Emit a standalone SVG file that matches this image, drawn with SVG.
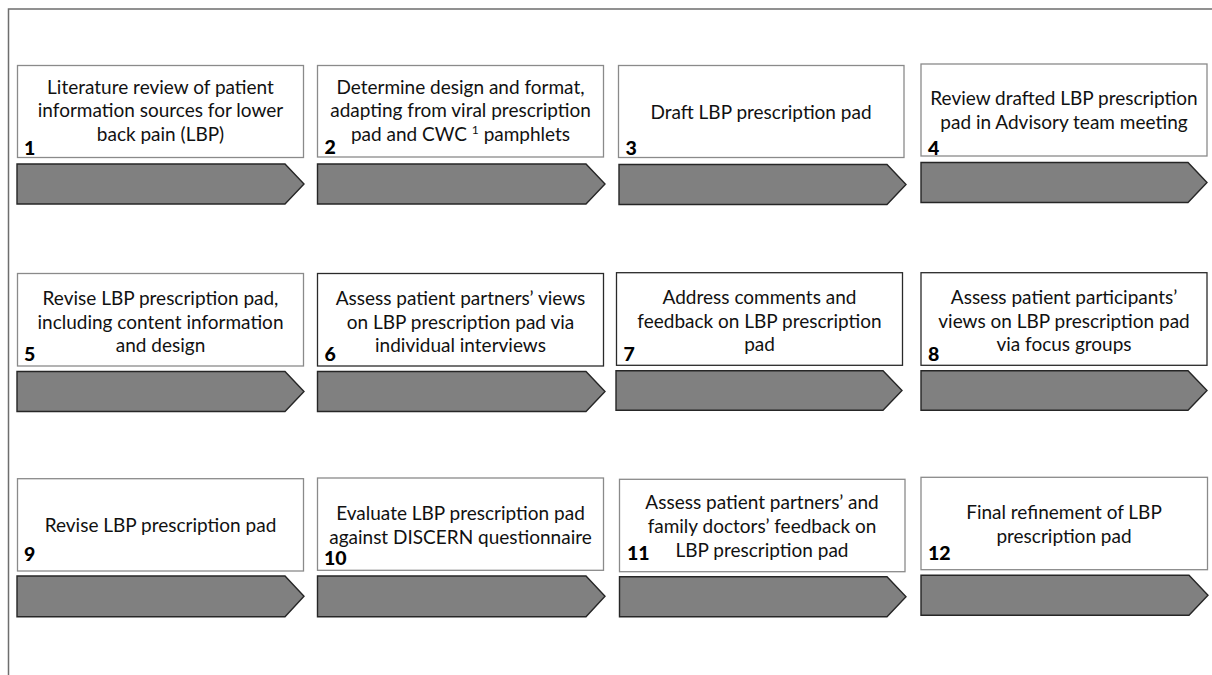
<svg xmlns="http://www.w3.org/2000/svg" width="1212" height="675" viewBox="0 0 1212 675">
<style>
.box{fill:#fff;stroke:#8a8a8a;stroke-width:1.3}
.box.dk{stroke:#2a2a2a}
.arr{fill:#808080;stroke:#262626;stroke-width:1.4;stroke-linejoin:miter}
.t{font-family:Lato,"Liberation Sans",sans-serif;font-size:19px;fill:#111;text-anchor:middle}
.n{font-family:Lato,"Liberation Sans",sans-serif;font-size:19.5px;font-weight:900;fill:#000}
.frame{fill:none;stroke:#6e6e6e;stroke-width:1.5}
</style>
<rect x="0" y="0" width="1212" height="675" fill="#fff"/>
<path class="frame" d="M8.5 675 V9 H1212"/>

<g id="connectors">
<path class="arr" d="M17 164 H285 L304 184 L285 204 H17 Z"/>
<path class="arr" d="M317.5 164 H586 L605 184 L586 204 H317.5 Z"/>
<path class="arr" d="M619 164.5 H887 L906 184.5 L887 204.5 H619 Z"/>
<path class="arr" d="M921 162.5 H1188 L1207 182.5 L1188 202.5 H921 Z"/>
<path class="arr" d="M17 371.5 H285 L304 391.5 L285 411.5 H17 Z"/>
<path class="arr" d="M317.5 371.5 H586 L605 391.5 L586 411.5 H317.5 Z"/>
<path class="arr" d="M616 370.7 H883 L902 390.5 L883 410.3 H616 Z"/>
<path class="arr" d="M921 370.7 H1188 L1207 390.5 L1188 410.3 H921 Z"/>
<path class="arr" d="M17 576 H285 L304 596.3 L285 616.7 H17 Z"/>
<path class="arr" d="M317.5 576 H586 L605 596.3 L586 616.7 H317.5 Z"/>
<path class="arr" d="M619.5 576.7 H887 L906 596.7 L887 616.7 H619.5 Z"/>
<path class="arr" d="M921 575.3 H1189 L1208 595.3 L1189 615.3 H921 Z"/>
</g>

<g id="step1">
<rect class="box" x="17.5" y="65.5" width="286" height="92"/>
<text class="t" x="160.5" y="93.5">Literature review of patient</text>
<text class="t" x="160.5" y="117">information sources for lower</text>
<text class="t" x="160.5" y="140.5">back pain (LBP)</text>
<text class="n" x="24" y="155">1</text>
</g>
<g id="step2">
<rect class="box" x="317.5" y="65.5" width="286" height="91.5"/>
<text class="t" x="460.5" y="93.5">Determine design and format,</text>
<text class="t" x="460.5" y="117">adapting from viral prescription</text>
<text class="t" x="460.5" y="140.5">pad and CWC <tspan font-size="12" dy="-7">1</tspan><tspan dy="7"> pamphlets</tspan></text>
<text class="n" x="324.5" y="153.5">2</text>
</g>
<g id="step3">
<rect class="box" x="618.5" y="65.5" width="285.5" height="92"/>
<text class="t" x="761" y="118.5">Draft LBP prescription pad</text>
<text class="n" x="625.5" y="155">3</text>
</g>
<g id="step4">
<rect class="box" x="921" y="64" width="286" height="92"/>
<text class="t" x="1064" y="105">Review drafted LBP prescription</text>
<text class="t" x="1064" y="129">pad in Advisory team meeting</text>
<text class="n" x="928" y="154.5">4</text>
</g>

<g id="step5">
<rect class="box" x="17.5" y="273.5" width="286" height="92.5"/>
<text class="t" x="160.5" y="305">Revise LBP prescription pad,</text>
<text class="t" x="160.5" y="328.5">including content information</text>
<text class="t" x="160.5" y="351.5">and design</text>
<text class="n" x="24" y="361">5</text>
</g>
<g id="step6">
<rect class="box dk" x="317.5" y="273.5" width="286" height="92.5"/>
<text class="t" x="460.5" y="305">Assess patient partners’ views</text>
<text class="t" x="460.5" y="328.5">on LBP prescription pad via</text>
<text class="t" x="460.5" y="351.5">individual interviews</text>
<text class="n" x="324.5" y="361">6</text>
</g>
<g id="step7">
<rect class="box dk" x="616.5" y="272.7" width="286" height="92.6"/>
<text class="t" x="759.5" y="304">Address comments and</text>
<text class="t" x="759.5" y="327.5">feedback on LBP prescription</text>
<text class="t" x="759.5" y="351">pad</text>
<text class="n" x="623.5" y="360.5">7</text>
</g>
<g id="step8">
<rect class="box dk" x="921" y="272.7" width="286" height="92.6"/>
<text class="t" x="1064" y="304">Assess patient participants’</text>
<text class="t" x="1064" y="327.5">views on LBP prescription pad</text>
<text class="t" x="1064" y="351">via focus groups</text>
<text class="n" x="928" y="360.5">8</text>
</g>

<g id="step9">
<rect class="box" x="17.5" y="478.7" width="286" height="92.3"/>
<text class="t" x="160.5" y="531.5">Revise LBP prescription pad</text>
<text class="n" x="24" y="560.5">9</text>
</g>
<g id="step10">
<rect class="box" x="317.5" y="478" width="286" height="92.3"/>
<text class="t" x="460.5" y="519.5">Evaluate LBP prescription pad</text>
<text class="t" x="460.5" y="543.5">against DISCERN questionnaire</text>
<text class="n" x="324" y="564.5">10</text>
</g>
<g id="step11">
<rect class="box" x="619.5" y="479.3" width="285.5" height="92.4"/>
<text class="t" x="762" y="509">Assess patient partners’ and</text>
<text class="t" x="762" y="533">family doctors’ feedback on</text>
<text class="t" x="762" y="557">LBP prescription pad</text>
<text class="n" x="627" y="560">11</text>
</g>
<g id="step12">
<rect class="box" x="921" y="477.3" width="286.5" height="92.4"/>
<text class="t" x="1064" y="518.5">Final refinement of LBP</text>
<text class="t" x="1064" y="542.5">prescription pad</text>
<text class="n" x="928" y="559.5">12</text>
</g>
</svg>
